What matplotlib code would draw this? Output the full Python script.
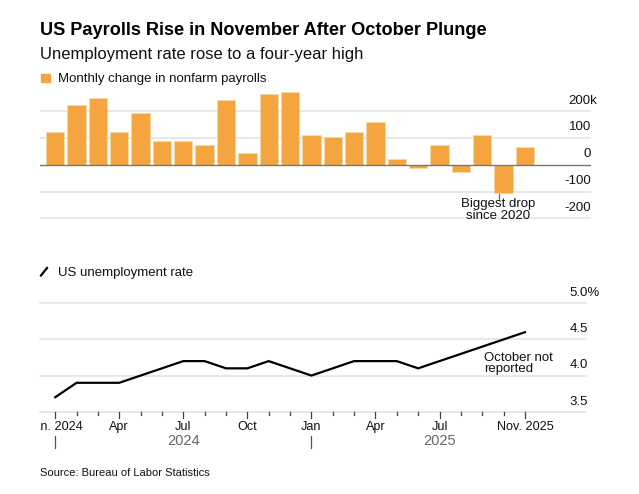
import numpy as np
import matplotlib
matplotlib.use('Agg')
from matplotlib import pyplot as plt
from matplotlib.transforms import Bbox, offset_copy

## data ##
months = ['Jan', 'Feb', 'Mar', 'Apr', 'May', 'Jun', 'Jul', 'Aug', 'Sep', 'Oct', 'Nov', 'Dec',
          'Jan', 'Feb', 'Mar', 'Apr', 'May', 'Jun', 'Jul', 'Aug', 'Sep', 'Oct', 'Nov']
payrolls = [120, 222, 246, 119, 193, 88, 88, 72, 240, 43, 262, 269,
            111, 102, 120, 158, 19, -13, 72, -26, 108, -105, 64]
unemployment = [3.7, 3.9, 3.9, 3.9, 4.0, 4.1, 4.2, 4.2, 4.1, 4.1, 4.2, 4.1,
                4.0, 4.1, 4.2, 4.2, 4.2, 4.1, 4.2, 4.3, 4.4, np.nan, 4.6]
tick_labels = {0: 'Jan. 2024', 3: 'Apr', 6: 'Jul', 9: 'Oct', 12: 'Jan', 15: 'Apr', 18: 'Jul', 22: 'Nov. 2025'}
year_labels = {6: '2024', 18: '2025'}
bar_ticks = [200, 100, 0, -100, -200]
rate_ticks = [5.0, 4.5, 4.0, 3.5]

## style ##
plt.rcParams['font.family'] = ['Liberation Sans', 'DejaVu Sans']
W, H = 639, 494
orange = '#f5a540'
grid_c = '#e2e2e2'

def fx(x):
    return x / W

def fy(y):
    return 1 - y / H

fig = plt.figure(figsize=(W / 100, H / 100), dpi=100)

x = np.arange(len(months))
xlim = (-0.712, 25.096)
left, right = 40, 591

## bars ##
ax1 = fig.add_axes([fx(left), fy(219), fx(right - left), (219 - 88) / H])
ax1.set_xlim(xlim)
ax1.set_ylim(-202, 284)
for t in bar_ticks:
    if t == 0:
        continue
    ax1.axhline(t, color=grid_c, lw=1.1, zorder=0)
ax1.bar(x, payrolls, width=0.86, color=orange, edgecolor='#fbd7a4', linewidth=0.6, zorder=2)
ax1.axhline(0, color='#777777', lw=1.0, zorder=3)
lab_off = offset_copy(ax1.get_yaxis_transform(), fig=fig, x=0, y=7.3, units='points')
for t in bar_ticks:
    s = '200k' if t == 200 else str(t)
    xr = 1.0 if t != 200 else 1.0 + 6 / (right - left)
    ax1.text(xr, t, s, transform=lab_off, ha='right', va='center', fontsize=9.5, color='#111111')
# annotation for October drop
ax1.plot([20.78, 20.78], [-105, -131], color='#777777', lw=1.0, zorder=1)
ax1.text(20.75, -167, 'Biggest drop\nsince 2020', ha='center', va='center', fontsize=9.5,
         linespacing=1.0, color='#111111')
ax1.axis('off')

## line ##
py = 72.2  # pixels per percentage point
ax2 = fig.add_axes([fx(left), fy(411.7), fx(right - left), (411.7 - 303.3) / H])
ax2.set_xlim(xlim)
ax2.set_ylim(3.5, 5.0)
gx = (585.7 - left) / (right - left)
for t in rate_ticks:
    ax2.axhline(t, xmax=gx, color=grid_c, lw=1.1, zorder=0, clip_on=False)
s = np.isfinite(unemployment)
ax2.plot(x[s], np.array(unemployment)[s], color='black', lw=1.6, zorder=3, solid_joinstyle='miter')
lab_off2 = offset_copy(ax2.get_yaxis_transform(), fig=fig, x=0, y=7.3, units='points')
for t in rate_ticks:
    s2 = '5.0%' if t == 5.0 else f'{t:.1f}'
    ax2.text((569.3 - left) / (right - left), t, s2, transform=lab_off2, ha='left', va='center',
             fontsize=9.5, color='#111111')
ax2.text(20.1, 4.165, 'October not\nreported', ha='left', va='center', fontsize=9.5,
         linespacing=0.95, color='#111111')
ax2.axis('off')

# x ticks
clip = Bbox([[left, 0], [W, H]])
for i in x:
    big = i in tick_labels
    ln = 6 if big else 3.5
    ax2.plot([i, i], [3.5, 3.5 - ln / py], color='#444444', lw=0.9, clip_on=False)
for i, lab in tick_labels.items():
    t = ax2.text(i, 3.5 - 15 / py, lab, ha='center', va='center', fontsize=9.1, color='#111111')
    t.set_clip_box(clip)
    t.set_clip_on(True)
for i in [0, 12]:
    ax2.plot([i, i], [3.5 - 24.3 / py, 3.5 - 36 / py], color='#555555', lw=0.9, clip_on=False)
for i, lab in year_labels.items():
    ax2.text(i, 3.5 - 29.5 / py, lab, ha='center', va='center', fontsize=10.5, color='#666666')

## titles, legends, source ##
fig.text(fx(40), fy(35), 'US Payrolls Rise in November After October Plunge', fontsize=13.1,
         fontweight='bold', color='black', va='baseline')
fig.text(fx(40), fy(59.5), 'Unemployment rate rose to a four-year high', fontsize=12,
         color='#111111', va='baseline')
fig.patches.append(plt.Rectangle((fx(41), fy(82)), fx(9), 8 / H, transform=fig.transFigure,
                                 color=orange, figure=fig))
fig.text(fx(58.5), fy(82), 'Monthly change in nonfarm payrolls', fontsize=9.5, color='#111111', va='baseline')
fig.add_artist(plt.Line2D([fx(41), fx(47)], [fy(275.5), fy(268)], transform=fig.transFigure,
                          color='black', lw=1.6))
fig.text(fx(58.5), fy(276), 'US unemployment rate', fontsize=9.5, color='#111111', va='baseline')
fig.text(fx(40), fy(473), 'Source: Bureau of Labor Statistics', fontsize=8, color='#111111', va='center')

fig.savefig('out.png', dpi=100)
